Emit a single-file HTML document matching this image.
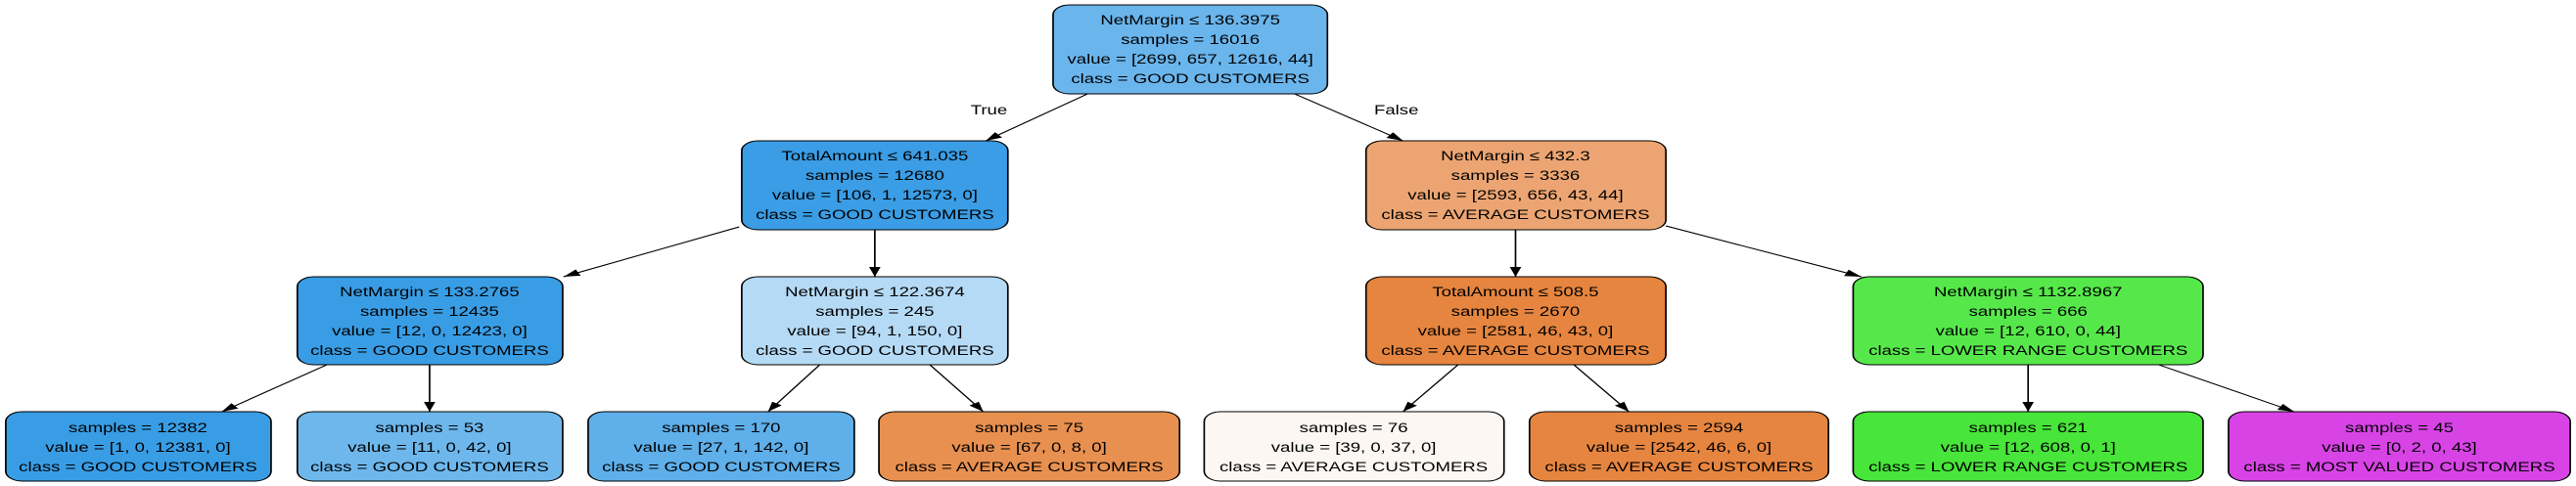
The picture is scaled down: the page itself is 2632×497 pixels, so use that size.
<!DOCTYPE html>
<html><head><meta charset="utf-8"><style>
html,body{margin:0;padding:0;background:#fff;width:2632px;height:497px;overflow:hidden}
svg{display:block}
text{font-family:"Liberation Sans",Arial,sans-serif;font-size:14px;fill:#000;text-anchor:middle}
</style></head><body>
<svg width="2632" height="497" viewBox="0 0 1568 497" preserveAspectRatio="none" xmlns="http://www.w3.org/2000/svg">
<defs><marker id="a" viewBox="0 0 10 10" refX="10" refY="5" markerWidth="10" markerHeight="10" markerUnits="userSpaceOnUse" orient="auto"><path d="M0,1.5 L10,5 L0,8.5 z" fill="#000"/></marker></defs>
<g stroke="#000" stroke-width="1" fill="none">
<line x1="662" y1="96" x2="600" y2="144" marker-end="url(#a)"/>
<line x1="788" y1="96" x2="854" y2="144" marker-end="url(#a)"/>
<line x1="450" y1="232" x2="343" y2="283" marker-end="url(#a)"/>
<line x1="532.5" y1="235" x2="532.5" y2="283" marker-end="url(#a)"/>
<line x1="922.5" y1="235" x2="922.5" y2="283" marker-end="url(#a)"/>
<line x1="1014" y1="231" x2="1133" y2="283" marker-end="url(#a)"/>
<line x1="199" y1="373" x2="135" y2="421" marker-end="url(#a)"/>
<line x1="261.5" y1="373" x2="261.5" y2="421" marker-end="url(#a)"/>
<line x1="499" y1="373" x2="467.5" y2="421" marker-end="url(#a)"/>
<line x1="566" y1="373" x2="598.5" y2="421" marker-end="url(#a)"/>
<line x1="887.5" y1="373" x2="854" y2="421" marker-end="url(#a)"/>
<line x1="958" y1="373" x2="991.5" y2="421" marker-end="url(#a)"/>
<line x1="1234.5" y1="373" x2="1234.5" y2="421" marker-end="url(#a)"/>
<line x1="1314" y1="373" x2="1396.5" y2="421" marker-end="url(#a)"/>
</g>
<g stroke="#000" stroke-width="1">
<rect x="641" y="5" width="167" height="91" rx="10" fill="#6ab5ec"/>
<rect x="451.5" y="144" width="162" height="91" rx="10" fill="#3a9de5"/>
<rect x="831.5" y="144" width="182.5" height="91" rx="10" fill="#eca572"/>
<rect x="181" y="283" width="161.5" height="90" rx="10" fill="#399de5"/>
<rect x="451.5" y="283" width="162" height="90" rx="10" fill="#b5daf5"/>
<rect x="831.5" y="283" width="182.5" height="90" rx="10" fill="#e6853f"/>
<rect x="1128" y="283" width="213" height="90" rx="10" fill="#56e84b"/>
<rect x="3.5" y="421" width="161.5" height="71" rx="10" fill="#399de5"/>
<rect x="181" y="421" width="161.5" height="71" rx="10" fill="#6db7ec"/>
<rect x="358" y="421" width="162" height="71" rx="10" fill="#5eafea"/>
<rect x="535" y="421" width="183" height="71" rx="10" fill="#e89050"/>
<rect x="733" y="421" width="182.5" height="71" rx="10" fill="#fcf7f3"/>
<rect x="931" y="421" width="182" height="71" rx="10" fill="#e68540"/>
<rect x="1128" y="421" width="213" height="71" rx="10" fill="#48e53a"/>
<rect x="1356.5" y="421" width="208" height="71" rx="10" fill="#d843e6"/>
</g>
<g transform="scale(0.79,1)">
<text x="762" y="117">True</text>
<text x="1075.9" y="117">False</text>
<text x="917.1" y="25">NetMargin ≤ 136.3975</text><text x="917.1" y="45">samples = 16016</text><text x="917.1" y="65">value = [2699, 657, 12616, 44]</text><text x="917.1" y="85">class = GOOD CUSTOMERS</text>
<text x="674.1" y="164">TotalAmount ≤ 641.035</text><text x="674.1" y="184">samples = 12680</text><text x="674.1" y="204">value = [106, 1, 12573, 0]</text><text x="674.1" y="224">class = GOOD CUSTOMERS</text>
<text x="1167.7" y="164">NetMargin ≤ 432.3</text><text x="1167.7" y="184">samples = 3336</text><text x="1167.7" y="204">value = [2593, 656, 43, 44]</text><text x="1167.7" y="224">class = AVERAGE CUSTOMERS</text>
<text x="331" y="303">NetMargin ≤ 133.2765</text><text x="331" y="323">samples = 12435</text><text x="331" y="343">value = [12, 0, 12423, 0]</text><text x="331" y="363">class = GOOD CUSTOMERS</text>
<text x="674.1" y="303">NetMargin ≤ 122.3674</text><text x="674.1" y="323">samples = 245</text><text x="674.1" y="343">value = [94, 1, 150, 0]</text><text x="674.1" y="363">class = GOOD CUSTOMERS</text>
<text x="1167.7" y="303">TotalAmount ≤ 508.5</text><text x="1167.7" y="323">samples = 2670</text><text x="1167.7" y="343">value = [2581, 46, 43, 0]</text><text x="1167.7" y="363">class = AVERAGE CUSTOMERS</text>
<text x="1562.7" y="303">NetMargin ≤ 1132.8967</text><text x="1562.7" y="323">samples = 666</text><text x="1562.7" y="343">value = [12, 610, 0, 44]</text><text x="1562.7" y="363">class = LOWER RANGE CUSTOMERS</text>
<text x="106.3" y="442">samples = 12382</text><text x="106.3" y="462">value = [1, 0, 12381, 0]</text><text x="106.3" y="482">class = GOOD CUSTOMERS</text>
<text x="331" y="442">samples = 53</text><text x="331" y="462">value = [11, 0, 42, 0]</text><text x="331" y="482">class = GOOD CUSTOMERS</text>
<text x="555.7" y="442">samples = 170</text><text x="555.7" y="462">value = [27, 1, 142, 0]</text><text x="555.7" y="482">class = GOOD CUSTOMERS</text>
<text x="793" y="442">samples = 75</text><text x="793" y="462">value = [67, 0, 8, 0]</text><text x="793" y="482">class = AVERAGE CUSTOMERS</text>
<text x="1043" y="442">samples = 76</text><text x="1043" y="462">value = [39, 0, 37, 0]</text><text x="1043" y="482">class = AVERAGE CUSTOMERS</text>
<text x="1293.7" y="442">samples = 2594</text><text x="1293.7" y="462">value = [2542, 46, 6, 0]</text><text x="1293.7" y="482">class = AVERAGE CUSTOMERS</text>
<text x="1562.7" y="442">samples = 621</text><text x="1562.7" y="462">value = [12, 608, 0, 1]</text><text x="1562.7" y="482">class = LOWER RANGE CUSTOMERS</text>
<text x="1848.7" y="442">samples = 45</text><text x="1848.7" y="462">value = [0, 2, 0, 43]</text><text x="1848.7" y="482">class = MOST VALUED CUSTOMERS</text>
</g>
</svg>
</body></html>
